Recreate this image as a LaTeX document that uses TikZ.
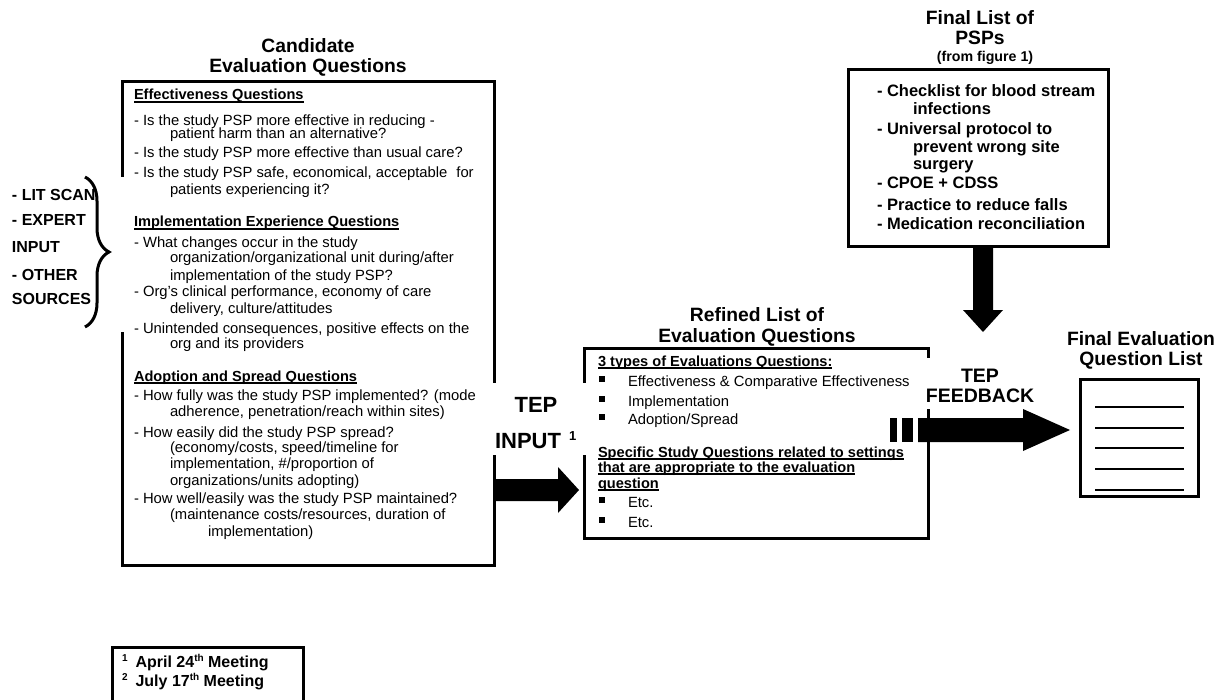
\documentclass[tikz,border=0pt]{standalone}
\usepackage{fontspec}
\setmainfont{Liberation Sans}
\usetikzlibrary{calc,decorations.pathreplacing}
\newsavebox\ulbox
\newcommand\myul[1]{\sbox\ulbox{#1}\rlap{\rule[-2.6pt]{\wd\ulbox}{1.5pt}}\usebox\ulbox}
\newcommand\supr[1]{\raisebox{6pt}{\fontsize{10}{10}\selectfont #1}}
\newcommand\bul{\makebox[29pt][l]{\rule[4.5pt]{5.5pt}{5.5pt}}}
\tikzset{
 boxn/.style={draw, line width=3pt, inner sep=0pt, outer sep=0pt, anchor=north west},
 txt/.style={font=\fontsize{14.8}{16}\selectfont, anchor=base west, inner sep=0pt, outer sep=0pt},
 hd/.style={font=\bfseries\fontsize{14.6}{16}\selectfont, anchor=base west, inner sep=0pt, outer sep=0pt},
 psptxt/.style={font=\bfseries\fontsize{16.5}{18}\selectfont, anchor=base west, inner sep=0pt, outer sep=0pt},
 ttl/.style={font=\bfseries\fontsize{19.3}{21}\selectfont, anchor=base, inner sep=0pt, outer sep=0pt},
 subttl/.style={font=\bfseries\fontsize{14.2}{16}\selectfont, anchor=base, inner sep=0pt, outer sep=0pt},
 src/.style={font=\bfseries\fontsize{16}{18}\selectfont, anchor=base west, inner sep=0pt, outer sep=0pt},
 tep/.style={font=\bfseries\fontsize{22}{24}\selectfont, inner sep=0pt, outer sep=0pt},
 tepfb/.style={font=\bfseries\fontsize{19.5}{21}\selectfont, anchor=base, inner sep=0pt, outer sep=0pt},
 foottxt/.style={font=\bfseries\fontsize{16}{18}\selectfont, anchor=base west, inner sep=0pt, outer sep=0pt},
 cover/.style={fill=white},
 fat/.style={fill=black},
 rule/.style={line width=1.5pt},
}
\begin{document}
\begin{tikzpicture}[x=1pt,y=-1pt]
\useasboundingbox[fill=white] (0,0) rectangle (1222,700);

% ---------- boxes ----------
\node[boxn, minimum width=372pt, minimum height=483pt] (cand) at (122,82) {};
\node[boxn, minimum width=344pt, minimum height=190pt] (ref) at (584,348) {};
\node[boxn, minimum width=260pt, minimum height=177pt] (psp) at (848,70) {};
\node[boxn, minimum width=118pt, minimum height=117pt] (fq) at (1080,379) {};
\node[boxn, minimum width=191pt, minimum height=80pt] (foot) at (112,647) {};

% ---------- white covers (label backgrounds) ----------
\fill[cover] (5,177) rectangle (126,332);
\fill[cover] (490,383) rectangle (590,455);
\fill[cover] (921,358) rectangle (1045,409);

% ---------- titles ----------
\node[ttl] (t1a) at (308,53) {Candidate};
\node[ttl] (t1b) at (308,73) {Evaluation Questions};
\node[ttl] (t2a) at (980,25) {Final List of};
\node[ttl] (t2b) at (980,45) {PSPs};
\node[subttl] (t2c) at (985,62) {(from figure 1)};
\node[ttl] (t3a) at (757,321) {Refined List of};
\node[ttl] (t3b) at (757,342) {Evaluation Questions};
\node[ttl] (t4a) at (1141,345) {Final Evaluation};
\node[ttl] (t4b) at (1141,365) {Question List};

% ---------- candidate box text ----------
\node[hd] (c1) at (134,100) {\myul{Effectiveness Questions}};
\node[txt] (c2) at (134,126) {- Is the study PSP more effective in reducing -};
\node[txt] (c3) at (170,139) {patient harm than an alternative?};
\node[txt] (c4) at (134,158) {- Is the study PSP more effective than usual care?};
\node[txt] (c5) at (134,178) {- Is the study PSP safe, economical, acceptable\hspace{9pt}for};
\node[txt] (c6) at (170,195) {patients experiencing it?};
\node[hd] (c7) at (134,227) {\myul{Implementation Experience Questions}};
\node[txt] (c8) at (134,248) {- What changes occur in the study};
\node[txt] (c9) at (170,263) {organization/organizational unit during/after};
\node[txt] (c10) at (170,280) {implementation of the study PSP?};
\node[txt] (c11) at (134,297) {- Org's clinical performance, economy of care};
\node[txt] (c12) at (170,313) {delivery, culture/attitudes};
\node[txt] (c13) at (134,333) {- Unintended consequences, positive effects on the};
\node[txt] (c14) at (170,348) {org and its providers};
\node[hd] (c15) at (134,381) {\myul{Adoption and Spread Questions}};
\node[txt] (c16) at (134,400) {- How fully was the study PSP implemented? (mode};
\node[txt] (c17) at (170,416) {adherence, penetration/reach within sites)};
\node[txt] (c18) at (134,437) {- How easily did the study PSP spread?};
\node[txt] (c19) at (170,452) {(economy/costs, speed/timeline for};
\node[txt] (c20) at (170,468) {implementation, \#/proportion of};
\node[txt] (c21) at (170,485) {organizations/units adopting)};
\node[txt] (c22) at (134,503) {- How well/easily was the study PSP maintained?};
\node[txt] (c23) at (170,519) {(maintenance costs/resources, duration of};
\node[txt] (c24) at (208,536) {implementation)};

% ---------- sources ----------
\node[src] (s1) at (12,201) {- LIT SCAN};
\node[src] (s2) at (12,226) {- EXPERT};
\node[src] (s3) at (12,253) {INPUT};
\node[src] (s4) at (12,280) {- OTHER};
\node[src] (s5) at (12,305) {SOURCES};
\draw[line width=3pt, decorate, decoration={brace, amplitude=24pt}] (85,177) -- (85,327);

% ---------- PSP box text ----------
\node[psptxt] (p1) at (877,97) {- Checklist for blood stream};
\node[psptxt] (p2) at (913,115) {infections};
\node[psptxt] (p3) at (877,135) {- Universal protocol to};
\node[psptxt] (p4) at (913,153) {prevent wrong site};
\node[psptxt] (p5) at (913,170) {surgery};
\node[psptxt] (p6) at (877,189) {- CPOE + CDSS};
\node[psptxt] (p7) at (877,211) {- Practice to reduce falls};
\node[psptxt] (p8) at (877,230) {- Medication reconciliation};

% ---------- refined box text ----------
\node[hd] (r1) at (598,366) {\myul{3 types of Evaluations Questions:}};
\node[txt] (r2) at (599,386) {\bul Effectiveness \& Comparative Effectiveness};
\node[txt] (r3) at (599,406) {\bul Implementation};
\node[txt] (r4) at (599,424) {\bul Adoption/Spread};
\node[hd] (r5) at (598,457) {\myul{Specific Study Questions related to settings}};
\node[hd] (r6) at (598,472) {\myul{that are appropriate to the evaluation}};
\node[hd] (r7) at (598,488) {\myul{question}};
\node[txt] (r8) at (599,507) {\bul Etc.};
\node[txt] (r9) at (599,527) {\bul Etc.};

% ---------- TEP labels ----------
\node[tep, anchor=base] (tin1) at (536,412) {TEP};
\node[tep, anchor=base west] (tin2) at (495,448) {INPUT\hspace{8pt}\raisebox{8pt}{\fontsize{13}{13}\selectfont 1}};
\node[tepfb] (tfb1) at (980,382) {TEP};
\node[tepfb] (tfb2) at (980,402) {FEEDBACK};

% ---------- final question list lines ----------
\foreach \yy in {407,428,448,469,490}
  \draw[rule] (1095,\yy) -- (1184,\yy);

% ---------- footnotes ----------
\node[foottxt] (f1) at (122,667) {\supr{1}\hspace{8pt}April 24\supr{th} Meeting};
\node[foottxt] (f2) at (122,686) {\supr{2}\hspace{8pt}July 17\supr{th} Meeting};

% ---------- fat arrows ----------
% TEP input: candidate -> refined
\coordinate (inY) at (0,490);
\coordinate (A) at (cand.east |- inY);
\coordinate (B) at (ref.west |- inY);
\fill[fat] ($(A)+(0,-11)$) -- ($(B)+(-26,-11)$) -- ($(B)+(-26,-23)$) -- ($(B)+(-5,0)$)
  -- ($(B)+(-26,23)$) -- ($(B)+(-26,11)$) -- ($(A)+(0,11)$) -- cycle;

% TEP feedback: refined -> final list
\coordinate (fbY) at (0,430);
\coordinate (C) at (ref.east |- fbY);
\coordinate (D) at (fq.west |- fbY);
\fill[fat] ($(C)+(-38,-12)$) rectangle ($(C)+(-31,12)$);
\fill[fat] ($(C)+(-26,-12)$) rectangle ($(C)+(-15,12)$);
\fill[fat] ($(C)+(-10,-12)$) -- ($(D)+(-57,-12)$) -- ($(D)+(-57,-21)$) -- ($(D)+(-10,0)$)
  -- ($(D)+(-57,21)$) -- ($(D)+(-57,12)$) -- ($(C)+(-10,12)$) -- cycle;

% PSPs -> refined (down)
\coordinate (E) at ($(psp.south)+(5,0)$);
\coordinate (F) at (E |- ref.north);
\fill[fat] ($(E)+(-10,0)$) -- ($(E)+(10,0)$) -- ($(F)+(10,-38)$) -- ($(F)+(20,-38)$)
  -- ($(F)+(0,-16)$) -- ($(F)+(-20,-38)$) -- ($(F)+(-10,-38)$) -- cycle;
\end{tikzpicture}
\end{document}
